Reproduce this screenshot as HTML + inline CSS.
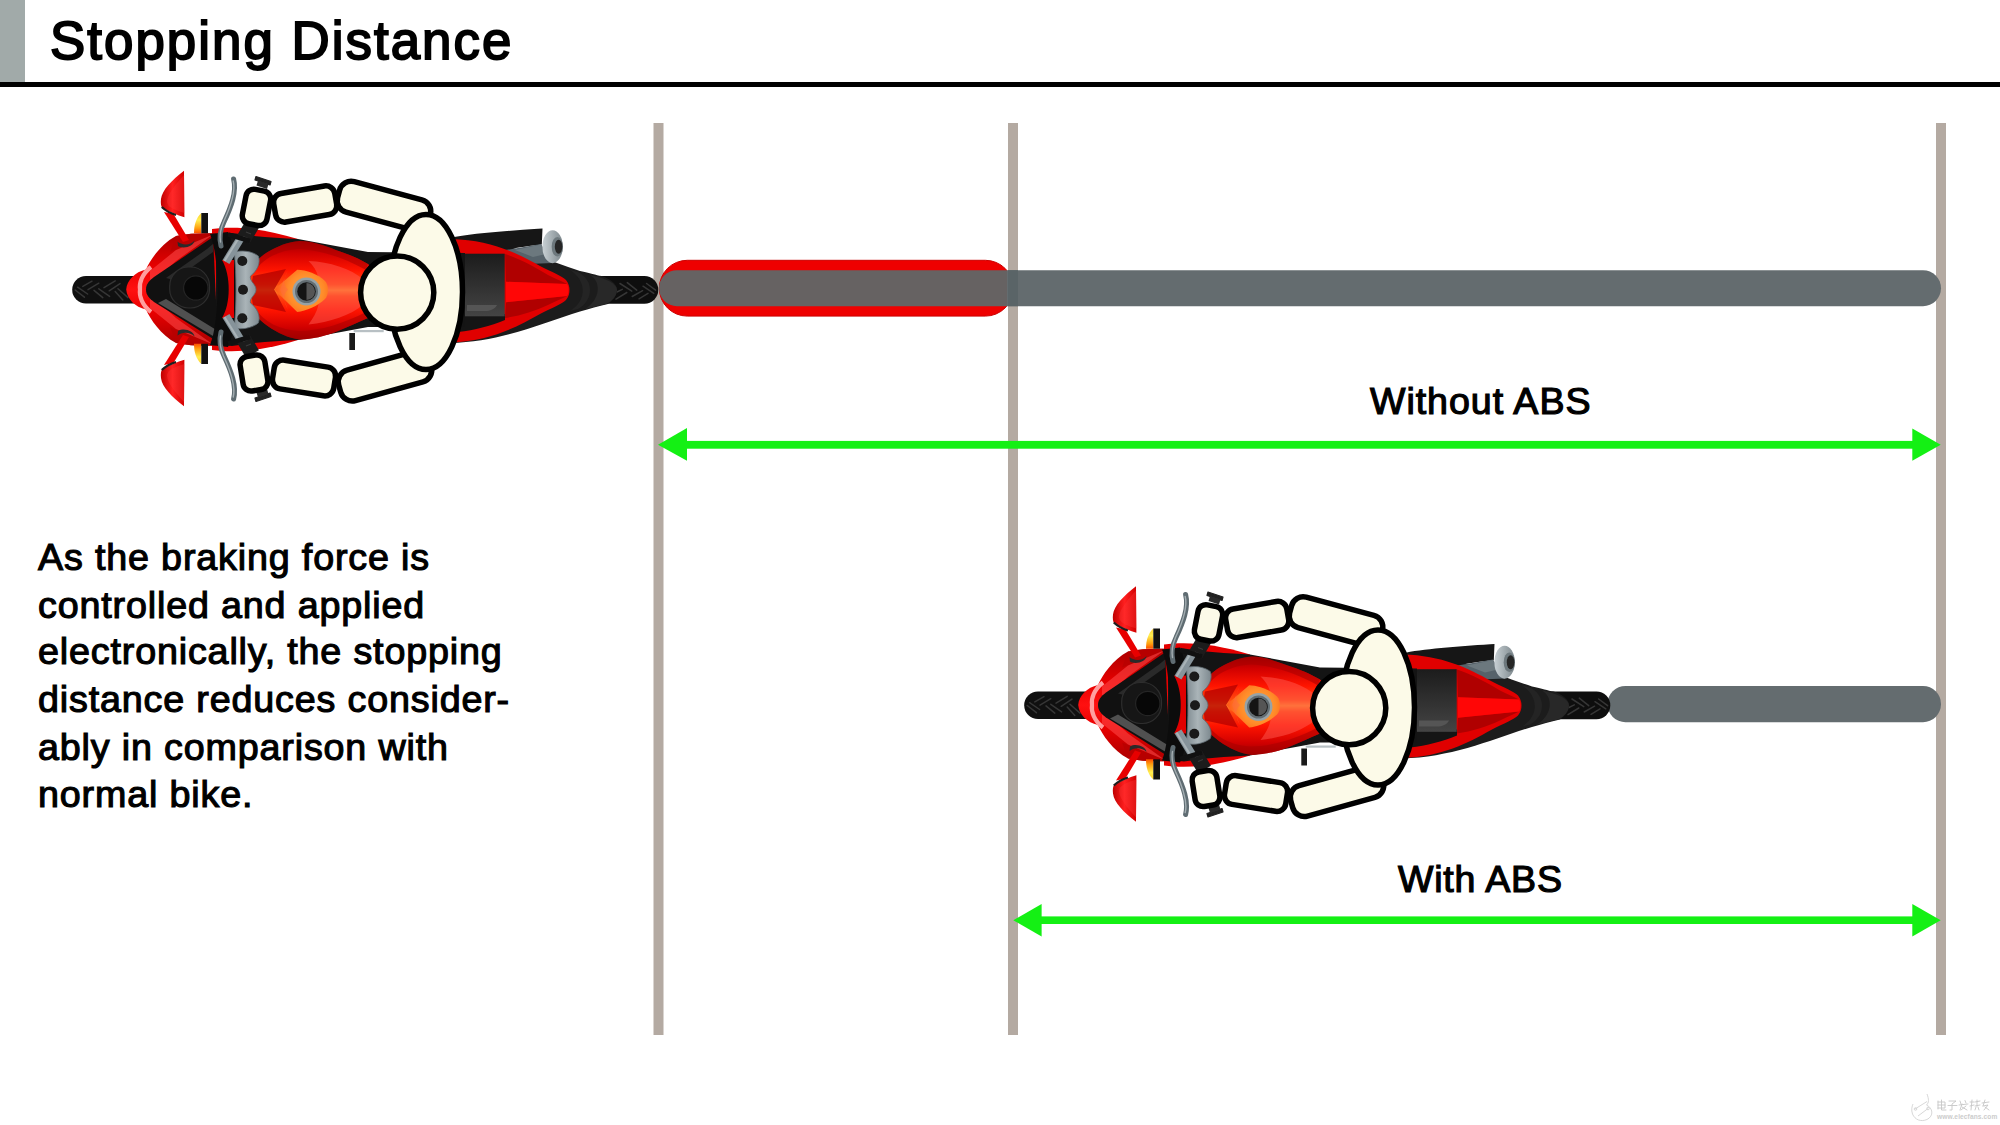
<!DOCTYPE html>
<html><head><meta charset="utf-8">
<style>
html,body{margin:0;padding:0;background:#fff;width:2000px;height:1125px;overflow:hidden}
svg{display:block}
.t{font-family:"Liberation Sans",sans-serif;fill:#000;stroke:#000;stroke-width:0.8px}
</style></head><body>
<svg width="2000" height="1125" viewBox="0 0 2000 1125">
<rect x="0" y="0" width="2000" height="1125" fill="#fff"/>
<rect x="0" y="0" width="25" height="83" fill="#a1aaa9"/>
<rect x="0" y="82" width="2000" height="5" fill="#000"/>
<text class="t" x="50" y="58.6" font-size="52.8" letter-spacing="2.05" style="stroke-width:1.9px">Stopping Distance</text>

<!-- vertical lines -->
<rect x="653.5" y="123" width="10" height="912" fill="#b4aaa2"/>
<rect x="1008" y="123" width="10" height="912" fill="#b4aaa2"/>
<rect x="1936" y="123" width="10" height="912" fill="#b4aaa2"/>

<!-- bars -->
<rect x="659.3" y="260.3" width="354" height="55.8" rx="27.9" fill="#ee0000" stroke="#cc0000" stroke-width="1"/>
<path d="M677,270.2 H1007 V306.2 H677 A18,18 0 0 1 677,270.2 Z" fill="#666262"/>
<path d="M1007,270.2 H1923 A18,18 0 0 1 1923,306.2 H1007 Z" fill="#646c6f"/>
<rect x="1008" y="270.2" width="10" height="36" fill="#5a6467"/>
<rect x="1607.5" y="686" width="333.5" height="36.2" rx="18" fill="#646c6f"/>
<!-- arrows -->
<g fill="#14f014">
<rect x="680" y="440.9" width="1240" height="7.8"/>
<polygon points="658,444.8 687,428.1 687,460.8"/>
<polygon points="1940.7,444.8 1912.3,428.4 1912.3,460.8"/>
<rect x="1035" y="916.4" width="885" height="7.6"/>
<polygon points="1013.3,920.2 1041.6,904 1041.6,936.4"/>
<polygon points="1940.7,920.2 1912.3,904 1912.3,936.4"/>
</g>

<text class="t" x="1370" y="414.2" font-size="37.6" letter-spacing="0.95" style="stroke-width:1.2px">Without ABS</text>
<text class="t" x="1398" y="892" font-size="37.6" letter-spacing="0.75" style="stroke-width:1.2px">With ABS</text>

<g class="t" font-size="37.7" letter-spacing="0.83" style="stroke-width:1.15px">
<text x="38" y="570">As the braking force is</text>
<text x="38" y="617.5">controlled and applied</text>
<text x="38" y="664.2">electronically, the stopping</text>
<text x="38" y="711.7">distance reduces consider-</text>
<text x="38" y="759.5">ably in comparison with</text>
<text x="38" y="806.9">normal bike.</text>
</g>

<defs>
<linearGradient id="gRedV" x1="0" y1="0" x2="0" y2="1">
<stop offset="0" stop-color="#a80000"/><stop offset="0.3" stop-color="#e80000"/><stop offset="0.5" stop-color="#ff1010"/><stop offset="0.7" stop-color="#e80000"/><stop offset="1" stop-color="#a80000"/>
</linearGradient>
<linearGradient id="gMirror" x1="0" y1="0" x2="1" y2="0">
<stop offset="0" stop-color="#c00000"/><stop offset="0.5" stop-color="#ff2020"/><stop offset="1" stop-color="#d00000"/>
</linearGradient>
<linearGradient id="gSignal" x1="0" y1="0" x2="0" y2="1">
<stop offset="0" stop-color="#ffd030"/><stop offset="0.35" stop-color="#ffee50"/><stop offset="0.75" stop-color="#ffa010"/><stop offset="1" stop-color="#ff5000"/>
</linearGradient>
<linearGradient id="gTank" x1="0" y1="241" x2="0" y2="339.5" gradientUnits="userSpaceOnUse">
<stop offset="0" stop-color="#9a0000"/><stop offset="0.12" stop-color="#d00000"/><stop offset="0.3" stop-color="#ff1400"/><stop offset="0.44" stop-color="#ff4a10"/><stop offset="0.5" stop-color="#ff8a28"/><stop offset="0.56" stop-color="#ff4a10"/><stop offset="0.7" stop-color="#ff1400"/><stop offset="0.88" stop-color="#d00000"/><stop offset="1" stop-color="#9a0000"/>
</linearGradient>
<radialGradient id="gFish" cx="306" cy="291" r="30" gradientUnits="userSpaceOnUse">
<stop offset="0" stop-color="#ffb048"/><stop offset="0.6" stop-color="#ff8a28"/><stop offset="1" stop-color="#ff5a18"/>
</radialGradient>
<linearGradient id="gSeat" x1="0" y1="0" x2="0" y2="1">
<stop offset="0" stop-color="#1c1c1c"/><stop offset="1" stop-color="#444"/>
</linearGradient>
<linearGradient id="gClamp" x1="234" y1="0" x2="260" y2="0" gradientUnits="userSpaceOnUse"><stop offset="0" stop-color="#7e8a90"/><stop offset="0.45" stop-color="#aab4b8"/><stop offset="1" stop-color="#7a868c"/></linearGradient>
<linearGradient id="gCan" x1="0" y1="0" x2="1" y2="0"><stop offset="0" stop-color="#c8d0d4"/><stop offset="1" stop-color="#7c878c"/></linearGradient>
<linearGradient id="gGray" x1="0" y1="0" x2="1" y2="0">
<stop offset="0" stop-color="#6e7a80"/><stop offset="0.5" stop-color="#a4aeb2"/><stop offset="1" stop-color="#6e7a80"/>
</linearGradient>
<g id="bk">
<!-- tires -->
<rect x="72.2" y="276" width="80" height="27.6" rx="13.8" fill="#101010"/>
<g stroke="#363636" stroke-width="1.5" stroke-linecap="round">
<path d="M82.8,286.4 L92,281.2 M88,289.6 L98.8,283.2 M104,287.6 L115.2,280.8 M109.2,290.8 L120,283.6 M75.2,290 L84.4,297.2 M77.6,287.2 L87.6,294 M94,290.4 L102.8,297.6 M98.8,288.8 L109.6,296.4 M115.2,291.6 L122.8,300 M118,288.8 L128,297.6"/>
</g>
<rect x="585" y="276" width="73.3" height="27.7" rx="13.85" fill="#0e0e0e"/>
<g stroke="#363636" stroke-width="1.5" stroke-linecap="round">
<path d="M620,283.5 L631.8,291.1 M627.3,282.6 L636.7,290.2 M643,286.2 L653.8,293.4 M646.6,283.5 L655.6,290.2 M616.9,292 L622.3,289.3 M616,299.2 L626.8,292.5 M632.2,296.5 L642.6,290.7 M639,298.8 L648,293.4"/>
</g>
<!-- rear cone -->
<path d="M450,238 C 500,238 540,258 580,270.9 C 590,273 596,275 601.6,276 C 610,278.5 617,284 617,289.7 C 617,296 612,301 608,304 C 598,306 590,309 580,311.4 C 540,324 500,342 450,343 Z" fill="#1c1c1c"/>
<path d="M590,275 C 606,278 617,284 617,289.7 C 617,296 612,301 606,304 C 596,306 590,308 585,309 C 600,300 602,282 590,275 Z" fill="#282828"/>
<path d="M570,270 C 586,280 588,300 570,311 L 578,309 C 594,300 594,280 578,272 Z" fill="#242424"/>
<!-- exhaust -->
<path d="M450,238 C 470,233.5 505,231 538,228.8 L542.5,228.6 L541.8,244.6 C 530,246 515,248 505,250 L456,252 Z" fill="#161616"/>
<path d="M500,251 L541,244 L553,263 L528,264 Z" fill="#56626a"/>
<path d="M515,250 L541,244.5 L546,254 L533,257 Z" fill="#6c787e"/>
<ellipse cx="552.6" cy="246.7" rx="10.2" ry="16.5" fill="url(#gCan)"/>
<ellipse cx="557.3" cy="246.7" rx="5.6" ry="9.8" fill="#6d787d"/>
<ellipse cx="558.6" cy="246.7" rx="3.8" ry="7" fill="#262626"/>
<!-- red tail -->
<path d="M451,239 C 490,240 515,252 540,266 C 552,272 562,276 566,280 C 569,284 569.5,287 569.5,290 C 569.5,293 569,296 566,300 C 562,304 552,308 540,314 C 515,328 490,341 451,342.5 Z" fill="#e00000"/>
<path d="M505,254 C 520,259 535,267 548,275 C 556,279 562,281.5 567,284 L506,281.8 Z" fill="#b00000"/>
<path d="M505,318 C 520,316 535,311 548,305 C 556,301 562,298.5 567,296 L506,302.2 Z" fill="#b00000"/>
<path d="M506,281.8 L567,284 C 569,287 569,293 567,296 L506,302.2 Z" fill="#ff0606"/>
<path d="M458,314 L505,314 L505,320 C 490,326 475,330 458,332 Z" fill="#151515"/>
<rect x="463.3" y="253.7" width="41.4" height="62.6" fill="url(#gSeat)"/>
<path d="M467,305 L497,305 C 495,309 490,311 485,311 L467,311 Z" fill="#555"/>
<!-- red back panel -->
<path d="M212,229 C 235,226 262,228 298,239 L298,340 C 262,351 235,353 212,350 Z" fill="#e40000"/>
<!-- black frame behind tank -->
<path d="M208,236 L232,233 C 250,236 275,238 298,239 L368,252 L465,253 L465,327 L368,327 L298,340 C 275,341 250,343 232,346 L208,343 Z" fill="#141414"/>
<!-- front fairing -->
<path d="M126.2,289.5 C 127,280 135,272 146,269.5 C 150,260 161,244 176,236 C 190,233 205,233 216,233.5 L216,345.5 C 205,346 190,346 176,343 C 161,335 150,319 146,309.5 C 135,307 127,299 126.2,289.5 Z" fill="url(#gRedV)"/>
<path d="M176,236 C 190,233 205,233 216,233.5 L216,242 C 200,242 185,246 170,252 Z" fill="#b80000" opacity="0.8"/>
<path d="M176,343 C 190,346 205,346 216,345.5 L216,337 C 200,337 185,333 170,327 Z" fill="#b80000" opacity="0.8"/>
<path d="M150,271 L176,250 L213,234.5 L176,261 L150,285 Z" fill="#ff4a4a" opacity="0.55"/>
<path d="M150,308 L176,329 L213,344.5 L176,318 L150,294 Z" fill="#ff4a4a" opacity="0.55"/>
<path d="M151,267 C 142,274 139,283 140,289.5 C 139,296 142,305 151,312" stroke="#ff9e9e" stroke-width="4.2" fill="none"/>
<!-- windshield -->
<path d="M146,289.5 C 146,284 149,281 154,277 L213,237 L218,342 L154,302 C 149,298 146,295 146,289.5 Z" fill="#111"/>
<path d="M158,303 L218,339 L218,331 L166,299 Z" fill="#505050"/>
<path d="M166,278 L207,249 L213,244 L213,252 L174,280 Z" fill="#2a2a2a"/>
<rect x="169.7" y="267" width="39.8" height="41" rx="19" fill="#161616" stroke="#2e2e2e" stroke-width="1.2"/>
<circle cx="195.8" cy="288" r="12.2" fill="#070707" stroke="#252525" stroke-width="1.2"/>
<path d="M210,234 L228,232 C 240,258 240,322 228,347 L210,345 C 220,320 220,258 210,234 Z" fill="#0c0c0c"/>
<path d="M222,260 C 231,275 231,304 222,318 L234,318 L234,260 Z" fill="#e00000"/>
<!-- tank -->
<path d="M251,269.5 C 255,262 261,256 267.3,252.3 C 278,246 288,242 299.7,241.1 C 312,241 325,246 335.7,249.9 C 348,254 358,258 368,264 L380,275 L380,308 L368,318 C 358,322 348,327 335.7,332 C 325,336 312,339.5 299.7,339.4 C 288,338 278,333 267.3,325.7 C 261,321 255,316 251,309.6 C 249,302 248.5,296 248.5,289.5 C 248.5,283 249,277 251,269.5 Z" fill="url(#gTank)"/>
<path d="M251,269.5 C 255,262 261,256 267.3,252.3 C 278,246 288,242 299.7,241.1 C 312,241 325,246 335.7,249.9 C 348,254 358,258 368,264 L 366,270 C 345,258 320,250 299,249 C 280,250 262,258 253,274 Z" fill="#a80000" opacity="0.55"/>
<path d="M251,309.6 C 255,316 261,321 267.3,325.7 C 278,333 288,338 299.7,339.4 C 312,339.5 325,336 335.7,332 C 348,327 358,322 368,318 L 366,312 C 345,323 320,331 299,331 C 280,330 262,322 253,305 Z" fill="#a80000" opacity="0.55"/>
<path d="M308.5,261 C 330,262 350,268 364,280 L364,304 C 350,316 330,322 308.5,324.5 C 318,312 322,300 316,292 C 322,282 318,270 308.5,261 Z" fill="#ff5a50" opacity="0.5"/>
<path d="M253,276 L286,269 L274.2,289.5 L286,312 L253,305 C 251,296 251,284 253,276 Z" fill="#b40000" opacity="0.75"/>
<path d="M274.2,289.5 L297.2,269.8 C 306,270 318,274 325,281 C 329,285 329,295 325,299 C 318,306 306,311 297.2,312 Z" fill="url(#gFish)"/>
<path d="M288,270 C 284,278 282,284 288,289.5 C 282,295 284,302 288,310 L280,289.5 Z" fill="#ff6a40" opacity="0.5"/>

<circle cx="306.5" cy="291.5" r="14" fill="#98a2a6"/>
<circle cx="306.5" cy="291.5" r="11.5" fill="#636d72"/>
<circle cx="306.5" cy="291.5" r="9.3" fill="#141414"/>
<path d="M306.5,283 A8.5,8.5 0 0 1 306.5,300 Z" fill="#555"/>
<!-- triple clamp -->
<path d="M234.3,252 C 242,250 252,251 258.3,256 C 261,263 257,271 250.5,276 C 249,281 256,284 256,289.7 C 256,295 249,298 250.5,303 C 257,308 261,316 258.3,323 C 252,328 242,330 234.3,328 C 236.5,305 236.5,275 234.3,252 Z" fill="url(#gClamp)" stroke="#5e6a70" stroke-width="0.8"/>
<circle cx="242.3" cy="261" r="5" fill="#1a1a1a"/>
<circle cx="243" cy="289.7" r="5" fill="#1a1a1a"/>
<circle cx="242.3" cy="318.3" r="5" fill="#1a1a1a"/>
<!-- handlebars -->
<g id="hbtop">
<path d="M233.6,179 C 237,192 231,207 224,222 C 220,230 219,238 221,246" stroke="#5f6c72" stroke-width="5" fill="none" stroke-linecap="round"/><path d="M233.2,181 C 236,192 230.5,207 223.5,222 C 220,230 219.5,236 220.5,242" stroke="#a4aeb2" stroke-width="1.4" fill="none" stroke-linecap="round"/>
<path d="M226,262 L242,236" stroke="#86939a" stroke-width="8" stroke-linecap="butt"/>
<path d="M224.5,261 L240.5,235" stroke="#a9b3b7" stroke-width="2.2" stroke-linecap="butt"/>
<path d="M243,240 L252.5,224" stroke="#1c1c1c" stroke-width="15" stroke-linecap="butt"/>
<path d="M246,232 L251,234 M243,236.5 L248,238.5" stroke="#3a3a3a" stroke-width="1.2"/>
<path d="M228,234.5 L250,241" stroke="#111" stroke-width="4.5"/>
<path d="M256,176.5 L271,181.5 L270,185 L255,180 Z" fill="#222" stroke="#222" stroke-width="1.2" stroke-linejoin="round"/><path d="M258,180.5 L268.5,184 L267,189 L256.5,185.5 Z" fill="#2a2a2a"/>
</g>
<use href="#hbtop" transform="matrix(1 0 0 -1 0 578)"/>
<!-- mirrors -->
<g id="mtop">
<path d="M164,212 L173.5,214 L189,240 L183,242 Z" fill="#e80000"/>
<path d="M177.5,241.5 C 181,245 190,246 194.5,240.5 C 194,246 184,249.5 178,246 Z" fill="#2a2a2a"/>
<path d="M184,170.7 C 172,180 162,190 161,199 C 160.5,203 161,206 162.2,208 C 170,212 177,215 184.4,217.3 Z" fill="url(#gMirror)"/>
<path d="M184,175 C 176,184 168,193 167,201 C 167,205 170,208 178,211 L184.4,213 Z" fill="#ff3a3a" opacity="0.35"/>
<path d="M161.8,207 C 166,211 171,213.5 176,215" stroke="#1e1e1e" stroke-width="2.2" fill="none"/>
<path d="M201.3,213 L201.3,233.2 L194,233.2 C 194,225 196,218 201.3,213 Z" fill="url(#gSignal)"/>
<rect x="201.3" y="213" width="6.7" height="20.2" fill="#111"/>
</g>
<use href="#mtop" transform="matrix(1 0 0 -1 0 577)"/>
<!-- footpeg -->
<rect x="349.3" y="333" width="5.7" height="17" fill="#1a1a1a"/>
<rect x="353.7" y="330" width="30" height="2.2" fill="#b8c0c4"/>
<!-- rider -->
<g fill="#fcfae8" stroke="#000" stroke-width="5.5" stroke-linejoin="round">
<rect x="-31" y="-13.5" width="62" height="29" rx="9" transform="translate(305,203) rotate(-9.9)"/>
<rect x="-31" y="-14.5" width="62" height="29" rx="9" transform="translate(304,378) rotate(9)"/>
<rect x="-12.5" y="-17.5" width="25" height="35" rx="8" transform="translate(256.5,207.4) rotate(11)"/>
<rect x="-12.5" y="-17.5" width="25" height="35" rx="8" transform="translate(254,373) rotate(-9)"/>
<rect x="-47" y="-15.8" width="94" height="31.6" rx="12" transform="translate(384,206) rotate(15)"/>
<rect x="-47" y="-15.8" width="94" height="31.6" rx="12" transform="translate(385,376) rotate(-15.5)"/>
<ellipse cx="426" cy="292" rx="36.5" ry="77.5"/>
<circle cx="397.2" cy="292.6" r="36.6"/>
</g>
</g>
</defs>
<use href="#bk"/>
<use href="#bk" transform="translate(952,415.5)"/>

<g id="wm" fill="none" stroke="#d2d2d2" stroke-width="0.9">
<path d="M1927,1094 C 1929,1099 1929,1103 1926.5,1105 C 1933,1108 1934,1116 1927,1119.5 C 1921,1122 1915,1120 1912.5,1114 C 1911,1110 1912,1106 1913,1104"/>
<path d="M1915,1109 L1927,1101.5 M1918,1116 L1928,1108.5"/>
<circle cx="1915.5" cy="1109" r="1.3"/><circle cx="1928" cy="1108.5" r="1.3"/>
</g>
<g fill="none" stroke="#c6c6c6" stroke-width="0.9" stroke-linecap="round">
<path d="M1938,1101 L1938,1109 M1938,1102 L1945,1102 L1945,1108 L1938,1108 M1938,1105 L1945,1105 M1941.5,1100 L1941.5,1110 L1946,1110"/>
<path d="M1949,1101 L1956,1101 L1952,1104 L1952,1110 L1950,1110 M1948,1105.5 L1957,1105.5"/>
<path d="M1960,1101 L1961,1104 M1965,1100.5 L1966,1103 M1959,1105 L1968,1104 M1962,1104 L1960,1110 M1962,1107 L1967,1110 M1966,1106 L1961,1110"/>
<path d="M1970,1102 L1974,1102 M1972,1100 L1971,1110 M1970,1106 L1974,1105 M1975,1102 L1980,1101 M1977,1100 L1977,1106 M1975,1106 L1980,1105 M1976,1107 L1975,1110 M1978,1107 L1979,1110"/>
<path d="M1982,1103 L1989,1102 M1985,1100 L1983,1106 M1983,1106 L1988,1105 L1984,1110 M1985,1107 L1989,1110"/>
</g>
<text x="1937" y="1118.5" font-family="Liberation Sans" font-size="6.6" fill="#cccccc" letter-spacing="0.1" font-weight="bold">www.elecfans.com</text>
</svg>
</body></html>
